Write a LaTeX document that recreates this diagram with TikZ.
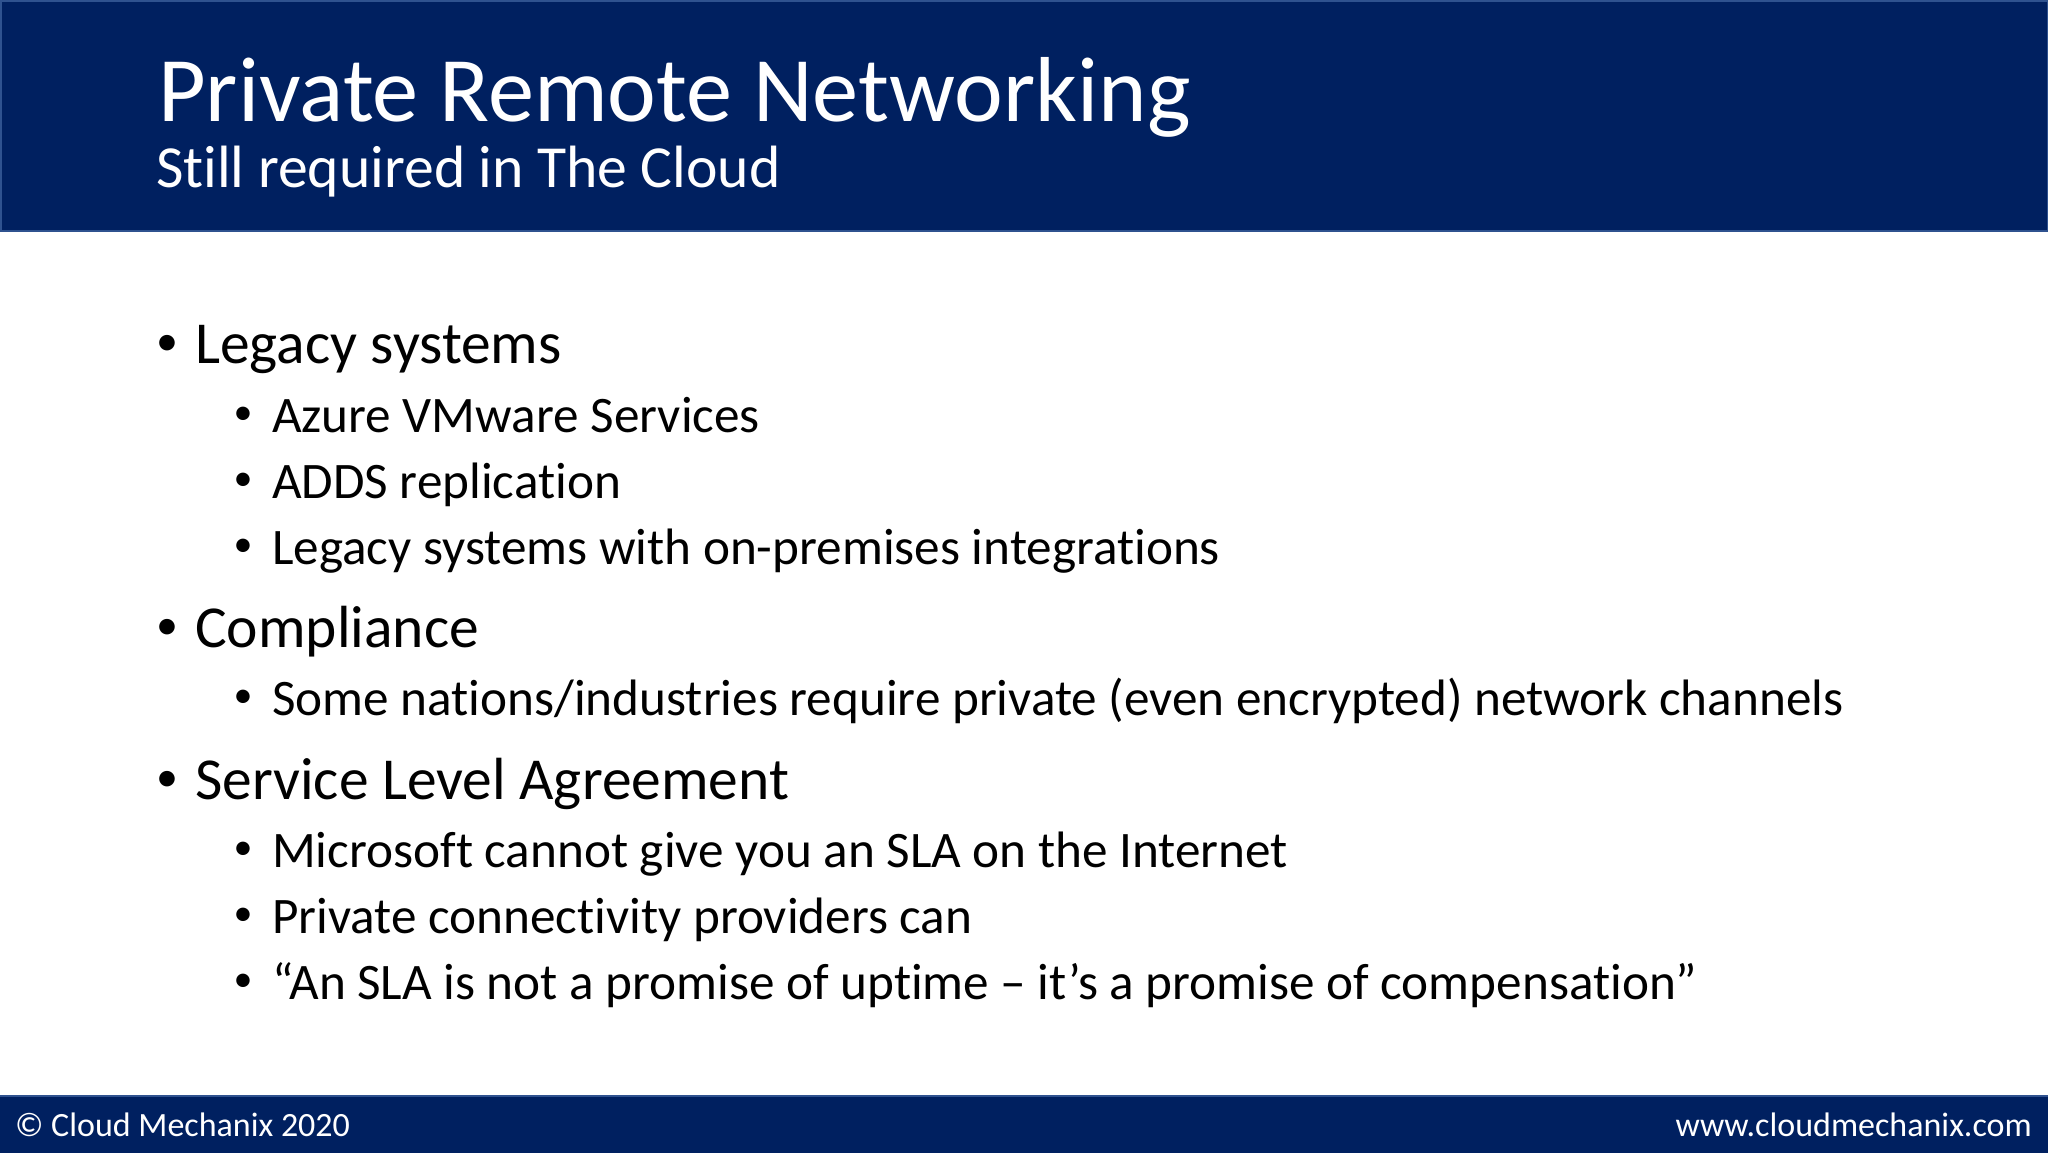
\documentclass[tikz,border=0pt]{standalone}
\usepackage{fontspec}
\setmainfont[Ligatures=NoCommon]{Carlito}
\usepackage{tikz}
\usetikzlibrary{positioning}
\definecolor{barblue}{RGB}{0,32,96}
\definecolor{barline}{RGB}{47,82,143}
\tikzset{
  bar/.style={fill=barblue,draw=barline,line width=1.5pt},
  top/.style={anchor=base west,black,font=\fontsize{59.5}{59.5}\selectfont,inner sep=0pt},
  sub/.style={anchor=base west,black,font=\fontsize{51.2}{51.2}\selectfont,inner sep=0pt},
  topdot/.style={anchor=base west,black,font=\fontsize{44}{44}\selectfont,inner sep=0pt},
  subdot/.style={anchor=base west,black,font=\fontsize{38}{38}\selectfont,inner sep=0pt},
  foot/.style={white,font=\fontsize{34}{34}\selectfont,inner sep=0pt}
}
\begin{document}
\begin{tikzpicture}[x=1pt,y=-1pt]
  \useasboundingbox (0,0) rectangle (2048,1152);
  \draw[bar] (0.75,0.75) rectangle (2047.25,231);
  \draw[bar] (-2,1096) rectangle (2050,1155);
  \node[anchor=base west,white,inner sep=0pt,font=\fontsize{92.3}{92.3}\selectfont] (title) at (158,121) {Private Remote Networking};
  \node[anchor=base west,white,inner sep=0pt,font=\fontsize{59.7}{59.7}\selectfont] (subtitle) at (156,187) {Still required in The Cloud};
  % first group
  \node[topdot] (b1) at (156.5,355) {•};
  \node[top] (t1) at (195,363) {Legacy systems};
  \node[subdot] (b2) at (233.5,424.5) {•};
  \node[sub] (t2) at (272,432) {Azure VMware Services};
  \node[subdot] (b3) at (233.5,490.5) {•};
  \node[sub] (t3) at (272,498) {ADDS replication};
  \node[subdot] (b4) at (233.5,556.5) {•};
  \node[sub] (t4) at (272,564) {Legacy systems with on-premises integrations};
  % second group
  \node[topdot] (b5) at (156.5,639) {•};
  \node[top] (t5) at (195,647) {Compliance};
  \node[subdot] (b6) at (233.5,707.5) {•};
  \node[sub] (t6) at (272,715) {Some nations/industries require private (even encrypted) network channels};
  % third group
  \node[topdot] (b7) at (156.5,791) {•};
  \node[top] (t7) at (195,799) {Service Level Agreement};
  \node[subdot] (b8) at (233.5,859.5) {•};
  \node[sub] (t8) at (272,867) {Microsoft cannot give you an SLA on the Internet};
  \node[subdot] (b9) at (233.5,925.5) {•};
  \node[sub] (t9) at (272,933) {Private connectivity providers can};
  \node[subdot] (b10) at (233.5,991.5) {•};
  \node[sub] (t10) at (272,999) {“An SLA is not a promise of uptime – it’s a promise of compensation”};
  \node[foot,anchor=base west] (copy) at (15,1136) {© Cloud Mechanix 2020};
  \node[foot,anchor=base east] (web) at (2032,1136) {www.cloudmechanix.com};
\end{tikzpicture}
\end{document}
